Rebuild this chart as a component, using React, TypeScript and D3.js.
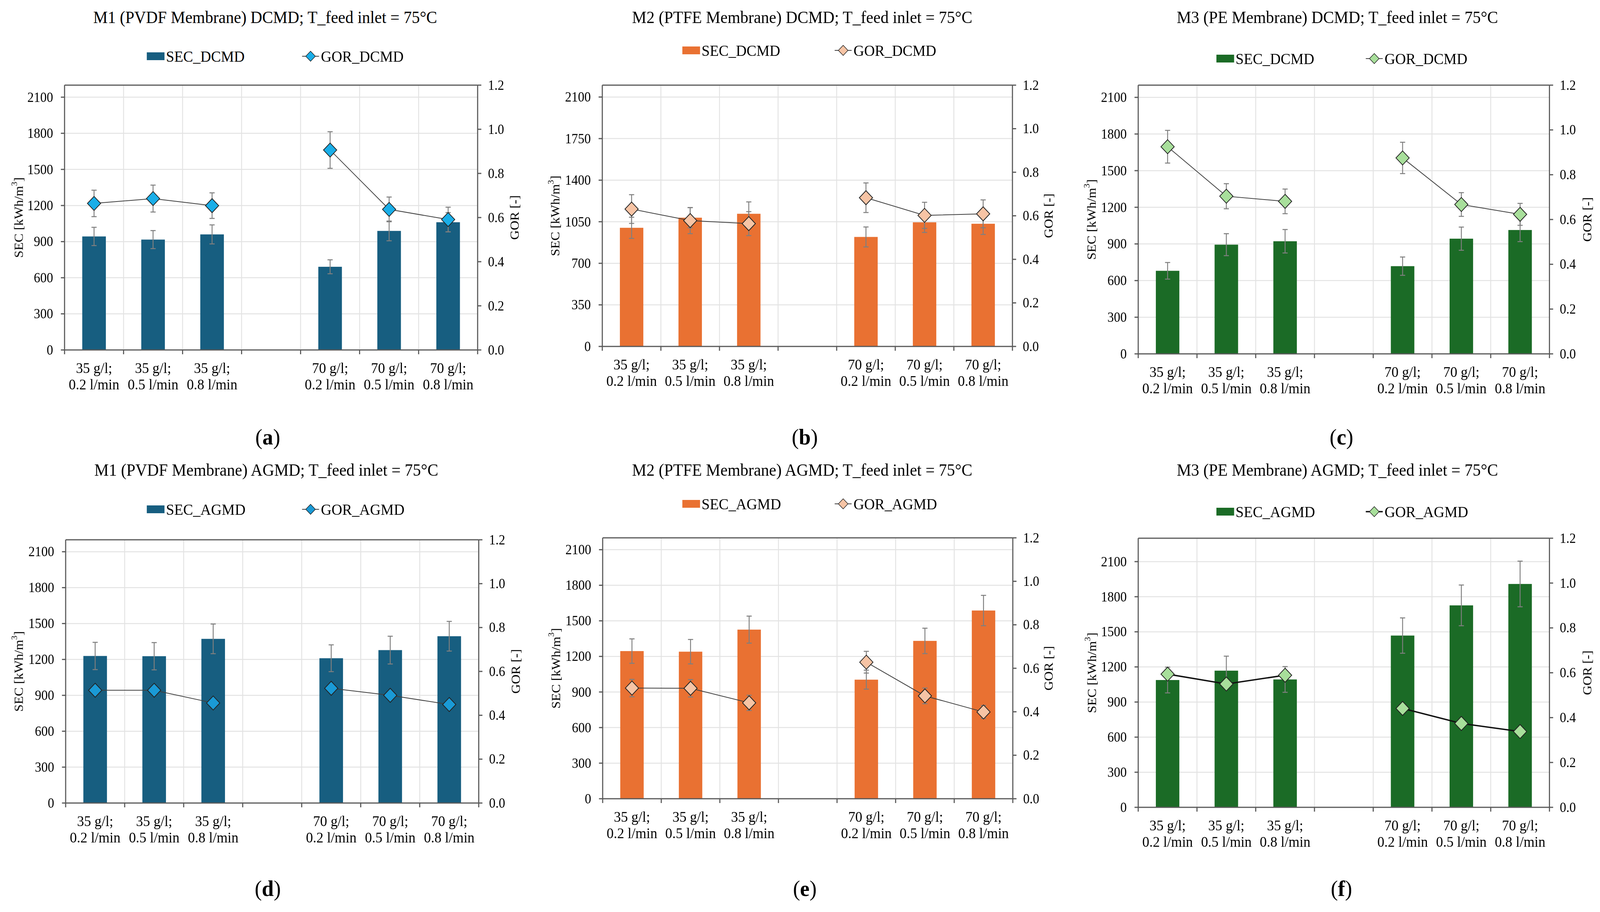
import * as d3 from "d3";
import { useEffect, useRef } from "react";

const W = 4338;
const H = 2335;
const FONT = "'Liberation Serif', 'Times New Roman', serif";

// category slots (one empty slot separates the two salinities)
const slots = ["35-0.2", "35-0.5", "35-0.8", "gap", "70-0.2", "70-0.5", "70-0.8"];
const concLabels = ["35 g/l;", "35 g/l;", "35 g/l;", "", "70 g/l;", "70 g/l;", "70 g/l;"];
const flowLabels = ["0.2 l/min", "0.5 l/min", "0.8 l/min", "", "0.2 l/min", "0.5 l/min", "0.8 l/min"];
const dataSlots = slots.filter((s) => s !== "gap");

const secTicks300 = [0, 300, 600, 900, 1200, 1500, 1800, 2100];
const secTicks350 = [0, 350, 700, 1050, 1400, 1750, 2100];
const gorTicks = [0, 0.2, 0.4, 0.6, 0.8, 1.0, 1.2];

// DCMD
const secM1Dcmd = [943, 917, 960, 691, 989, 1061];
const secM1DcmdErr = [76, 75, 79, 58, 82, 80];
const gorM1Dcmd = [0.664, 0.686, 0.654, 0.906, 0.637, 0.591];
const gorM1DcmdErr = [0.06, 0.061, 0.058, 0.083, 0.056, 0.056];

const secM2Dcmd = [999, 1084, 1117, 922, 1045, 1033];
const secM2DcmdErr = [89, 85, 100, 84, 85, 90];
const gorM2Dcmd = [0.631, 0.578, 0.564, 0.683, 0.602, 0.609];
const gorM2DcmdErr = [0.066, 0.06, 0.055, 0.068, 0.06, 0.064];

const secM3Dcmd = [680, 894, 922, 718, 943, 1014];
const secM3DcmdErr = [68, 90, 96, 75, 95, 95];
const gorM3Dcmd = [0.925, 0.704, 0.681, 0.875, 0.667, 0.623];
const gorM3DcmdErr = [0.073, 0.056, 0.055, 0.07, 0.053, 0.049];

// AGMD
const secM1Agmd = [1229, 1227, 1372, 1210, 1278, 1394];
const secM1AgmdErr = [114, 114, 124, 112, 116, 124];
const gorM1Agmd = [0.514, 0.514, 0.456, 0.523, 0.491, 0.449];
const gorM1AgmdErr = [0.015, 0.015, 0.015, 0.015, 0.015, 0.015];

const secM2Agmd = [1245, 1240, 1426, 1004, 1331, 1587];
const secM2AgmdErr = [103, 103, 114, 80, 107, 128];
const gorM2Agmd = [0.509, 0.508, 0.441, 0.628, 0.473, 0.399];
const gorM2AgmdErr = [0.04, 0.04, 0.035, 0.05, 0.036, 0.03];

const secM3Agmd = [1088, 1168, 1093, 1468, 1726, 1909];
const secM3AgmdErr = [110, 124, 110, 151, 174, 195];
const gorM3Agmd = [0.594, 0.55, 0.589, 0.441, 0.374, 0.338];
const gorM3AgmdErr = [0.015, 0.015, 0.015, 0.015, 0.015, 0.015];

const blue = { bar: "#175e80", marker: "#1aaee8" };
const blue2 = { bar: "#175e80", marker: "#1a9ad6" };
const orange = { bar: "#e97132", marker: "#f7c4a5" };
const green = { bar: "#1b6b26", marker: "#a8df9b" };

const panels = [
  { id: "a", title: "M1 (PVDF Membrane) DCMD; T_feed inlet = 75°C", mode: "DCMD", sec: secM1Dcmd, secErr: secM1DcmdErr, gor: gorM1Dcmd, gorErr: gorM1DcmdErr, secMax: 2200, secTicks: secTicks300, col: blue, lw: 2,
    box: { l: 175, r: 1295, t: 218, b: 896 }, titleX: 719, titleY: 44, legY: 144, legX: 398, gorX: 819, yTitleL: 51, yTitleR: 1395, labelX: 726, labelY: 1118 },
  { id: "b", title: "M2 (PTFE Membrane) DCMD; T_feed inlet = 75°C", mode: "DCMD", sec: secM2Dcmd, secErr: secM2DcmdErr, gor: gorM2Dcmd, gorErr: gorM2DcmdErr, secMax: 2200, secTicks: secTicks350, col: orange, lw: 2,
    box: { l: 1633, r: 2745, t: 218, b: 887 }, titleX: 2175, titleY: 44, legY: 129, legX: 1850, gorX: 2263, yTitleL: 1505, yTitleR: 2843, labelX: 2182, labelY: 1118 },
  { id: "c", title: "M3 (PE Membrane) DCMD; T_feed inlet = 75°C", mode: "DCMD", sec: secM3Dcmd, secErr: secM3DcmdErr, gor: gorM3Dcmd, gorErr: gorM3DcmdErr, secMax: 2200, secTicks: secTicks300, col: green, lw: 2,
    box: { l: 3086, r: 4201, t: 218, b: 906 }, titleX: 3626, titleY: 44, legY: 150, legX: 3298, gorX: 3703, yTitleL: 2959, yTitleR: 4303, labelX: 3637, labelY: 1118 },
  { id: "d", title: "M1 (PVDF Membrane) AGMD; T_feed inlet = 75°C", mode: "AGMD", sec: secM1Agmd, secErr: secM1AgmdErr, gor: gorM1Agmd, gorErr: gorM1AgmdErr, secMax: 2200, secTicks: secTicks300, col: blue2, lw: 2,
    box: { l: 178, r: 1298, t: 1382, b: 2056 }, titleX: 722, titleY: 1203, legY: 1304, legX: 398, gorX: 819, yTitleL: 51, yTitleR: 1398, labelX: 726, labelY: 2274 },
  { id: "e", title: "M2 (PTFE Membrane) AGMD; T_feed inlet = 75°C", mode: "AGMD", sec: secM2Agmd, secErr: secM2AgmdErr, gor: gorM2Agmd, gorErr: gorM2AgmdErr, secMax: 2200, secTicks: secTicks300, col: orange, lw: 2,
    box: { l: 1634, r: 2746, t: 1377, b: 2045 }, titleX: 2175, titleY: 1203, legY: 1290, legX: 1850, gorX: 2263, yTitleL: 1507, yTitleR: 2843, labelX: 2182, labelY: 2274 },
  { id: "f", title: "M3 (PE Membrane) AGMD; T_feed inlet = 75°C", mode: "AGMD", sec: secM3Agmd, secErr: secM3AgmdErr, gor: gorM3Agmd, gorErr: gorM3AgmdErr, secMax: 2300, secTicks: secTicks300, col: green, lw: 3.5,
    box: { l: 3086, r: 4201, t: 1378, b: 2067 }, titleX: 3626, titleY: 1203, legY: 1310, legX: 3298, gorX: 3703, yTitleL: 2961, yTitleR: 4303, labelX: 3637, labelY: 2274 },
];

const diamond = (s: number) => `M0,${-s}L${s},0L0,${s}L${-s},0Z`;

const App = () => {
  const svgRef = useRef<SVGSVGElement>(null);

  useEffect(() => {
    document.body.style.margin = "0";
    document.body.style.overflow = "hidden";
    const svg = d3.select(svgRef.current);
    svg.selectAll("*").remove();
    svg.append("rect").attr("width", W).attr("height", H).attr("fill", "#fff");

    panels.forEach((p) => {
      const g = svg.append("g").attr("font-family", FONT).attr("fill", "#000");
      const { l, r, t, b } = p.box;

      const x = d3.scaleBand<string>().domain(slots).range([l, r]).padding(0);
      const ySec = d3.scaleLinear().domain([0, p.secMax]).range([b, t]);
      const yGor = d3.scaleLinear().domain([0, 1.2]).range([b, t]);
      const barW = x.bandwidth() * 0.4;
      const cx = (s: string) => (x(s) as number) + x.bandwidth() / 2;
      const lineColor = p.lw > 2 ? "#111" : "#404040";

      // title
      g.append("text").attr("x", p.titleX).attr("y", p.titleY).attr("text-anchor", "middle")
        .attr("dominant-baseline", "central").attr("font-size", 44).text(p.title);

      // legend
      g.append("rect").attr("x", p.legX).attr("y", p.legY - 10).attr("width", 48).attr("height", 20).attr("fill", p.col.bar);
      g.append("text").attr("x", p.legX + 52).attr("y", p.legY).attr("dominant-baseline", "central")
        .attr("font-size", 40).text(`SEC_${p.mode}`);
      g.append("line").attr("x1", p.gorX).attr("x2", p.gorX + 46).attr("y1", p.legY).attr("y2", p.legY)
        .attr("stroke", lineColor).attr("stroke-width", p.lw);
      g.append("path").attr("d", diamond(13)).attr("transform", `translate(${p.gorX + 23},${p.legY})`)
        .attr("fill", p.col.marker).attr("stroke", "#222").attr("stroke-width", 1.5);
      g.append("text").attr("x", p.gorX + 51).attr("y", p.legY).attr("dominant-baseline", "central")
        .attr("font-size", 40).text(`GOR_${p.mode}`);

      // gridlines
      g.append("g").selectAll("line").data(p.secTicks.filter((v) => v > 0)).join("line")
        .attr("x1", l).attr("x2", r).attr("y1", (d) => ySec(d)).attr("y2", (d) => ySec(d))
        .attr("stroke", "#e3e3e3").attr("stroke-width", 2.5);
      g.append("g").selectAll("line").data(slots.slice(1)).join("line")
        .attr("x1", (d) => x(d) as number).attr("x2", (d) => x(d) as number).attr("y1", t).attr("y2", b)
        .attr("stroke", "#e3e3e3").attr("stroke-width", 2.5);

      // bars
      g.append("g").selectAll("rect").data(dataSlots).join("rect")
        .attr("x", (d) => cx(d) - barW / 2).attr("width", barW)
        .attr("y", (d, i) => ySec(p.sec[i])).attr("height", (d, i) => b - ySec(p.sec[i]))
        .attr("fill", p.col.bar);

      const errBars = (vals: number[], errs: number[], y: d3.ScaleLinear<number, number>) => {
        const eg = g.append("g").attr("stroke", "#7f7f7f").attr("stroke-width", 2.5);
        dataSlots.forEach((s, i) => {
          const xc = cx(s);
          const y1 = y(vals[i] + errs[i]);
          const y2 = y(vals[i] - errs[i]);
          eg.append("line").attr("x1", xc).attr("x2", xc).attr("y1", y1).attr("y2", y2);
          eg.append("line").attr("x1", xc - 7).attr("x2", xc + 7).attr("y1", y1).attr("y2", y1);
          eg.append("line").attr("x1", xc - 7).attr("x2", xc + 7).attr("y1", y2).attr("y2", y2);
        });
      };
      errBars(p.sec, p.secErr, ySec);

      // GOR lines (one per salinity group)
      const lineG = g.append("g").attr("fill", "none").attr("stroke", lineColor).attr("stroke-width", p.lw);
      lineG.append("path").attr("d", d3.line<number>().x((d, i) => cx(dataSlots[i])).y((d) => yGor(d))(p.gor.slice(0, 3)));
      lineG.append("path").attr("d", d3.line<number>().x((d, i) => cx(dataSlots[i + 3])).y((d) => yGor(d))(p.gor.slice(3)));

      errBars(p.gor, p.gorErr, yGor);

      g.append("g").selectAll("path").data(dataSlots).join("path")
        .attr("d", diamond(18))
        .attr("transform", (d, i) => `translate(${cx(d)},${yGor(p.gor[i])})`)
        .attr("fill", p.col.marker).attr("stroke", "#222").attr("stroke-width", 2);

      // axes
      const axG = g.append("g").attr("stroke", "#595959").attr("stroke-width", 3);
      axG.append("line").attr("x1", l).attr("x2", r).attr("y1", t).attr("y2", t);
      axG.append("line").attr("x1", l).attr("x2", l).attr("y1", t).attr("y2", b);
      axG.append("line").attr("x1", r).attr("x2", r).attr("y1", t).attr("y2", b);
      axG.append("line").attr("x1", l).attr("x2", r).attr("y1", b).attr("y2", b);
      axG.selectAll(".tl").data(p.secTicks).join("line").attr("class", "tl")
        .attr("x1", l - 10).attr("x2", l).attr("y1", (d) => ySec(d)).attr("y2", (d) => ySec(d));
      axG.selectAll(".tr").data(gorTicks).join("line").attr("class", "tr")
        .attr("x1", r).attr("x2", r + 10).attr("y1", (d) => yGor(d)).attr("y2", (d) => yGor(d));
      const bounds = [...slots.map((s) => x(s) as number), r];
      axG.selectAll(".tb").data(bounds).join("line").attr("class", "tb")
        .attr("x1", (d) => d).attr("x2", (d) => d).attr("y1", b).attr("y2", b + 11);

      // tick labels
      g.append("g").selectAll("text").data(p.secTicks).join("text")
        .attr("x", l - 31).attr("y", (d) => ySec(d)).attr("text-anchor", "end").attr("dominant-baseline", "central")
        .attr("font-size", 35).text((d) => d3.format("d")(d));
      g.append("g").selectAll("text").data(gorTicks).join("text")
        .attr("x", r + 28).attr("y", (d) => yGor(d)).attr("dominant-baseline", "central")
        .attr("font-size", 35).text((d) => d3.format(".1f")(d));

      const cat = g.append("g").attr("font-size", 38).attr("text-anchor", "middle");
      slots.forEach((s, i) => {
        if (s === "gap") return;
        cat.append("text").attr("x", cx(s)).attr("y", b + 59).text(concLabels[i]);
        cat.append("text").attr("x", cx(s)).attr("y", b + 101).text(flowLabels[i]);
      });

      // axis titles
      const mid = (t + b) / 2;
      const lt = g.append("text").attr("transform", `translate(${p.yTitleL},${mid}) rotate(-90)`)
        .attr("text-anchor", "middle").attr("dominant-baseline", "central").attr("font-size", 34);
      lt.append("tspan").text("SEC [kWh/m");
      lt.append("tspan").attr("font-size", 22).attr("dy", -12).text("3");
      lt.append("tspan").attr("dy", 12).text("]");
      g.append("text").attr("transform", `translate(${p.yTitleR},${mid}) rotate(-90)`)
        .attr("text-anchor", "middle").attr("dominant-baseline", "central").attr("font-size", 34).text("GOR [-]");

      // panel label
      const lab = g.append("text").attr("x", p.labelX).attr("y", p.labelY).attr("text-anchor", "middle")
        .attr("dominant-baseline", "central").attr("font-size", 58);
      lab.append("tspan").text("(");
      lab.append("tspan").attr("font-weight", "bold").text(p.id);
      lab.append("tspan").text(")");
    });
  }, []);

  // stretch the drawing to the whole viewport so nothing is cut at the edges
  return (
    <svg ref={svgRef} viewBox={`0 0 ${W} ${H}`} preserveAspectRatio="none"
      style={{ position: "fixed", left: 0, top: 0, width: "100vw", height: "100vh", display: "block" }}></svg>
  );
};

export default App;
